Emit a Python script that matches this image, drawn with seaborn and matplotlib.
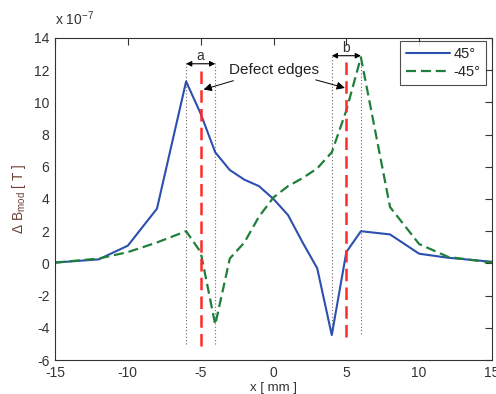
import matplotlib
matplotlib.use("Agg")
import matplotlib.pyplot as plt
import seaborn as sns
import pandas as pd

# data (values in units of 1e-7 T)
x_pos = [-15, -12, -10, -8, -6, -5, -4, -3, -2, -1, 0, 1, 2, 3, 4, 5, 6, 8, 10, 12, 15]
b_pos45 = [0.05, 0.25, 1.1, 3.4, 11.3, 9.3, 6.9, 5.8, 5.2, 4.8, 4.0, 3.0, 1.3, -0.3, -4.45, 0.7, 2.0, 1.8, 0.6, 0.35, 0.1]
b_neg45 = [0.05, 0.3, 0.7, 1.3, 2.0, 0.7, -3.8, 0.3, 1.3, 2.9, 4.1, 4.8, 5.3, 5.9, 6.9, 9.5, 12.8, 3.5, 1.2, 0.4, 0.05]
series_labels = ["45°", "-45°"]
defect_edges = [-5, 5]
marks_a = [-6, -4]
marks_b = [4, 6]
x_ticks = [-15, -10, -5, 0, 5, 10, 15]
y_ticks = [-6, -4, -2, 0, 2, 4, 6, 8, 10, 12, 14]

sns.set_style("white")
plt.rcParams['font.family'] = ['Liberation Sans', 'DejaVu Sans']
plt.rcParams['mathtext.fontset'] = 'custom'
plt.rcParams['mathtext.rm'] = 'Liberation Sans'
plt.rcParams['mathtext.it'] = 'Liberation Sans'
plt.rcParams['axes.unicode_minus'] = False

df = pd.DataFrame({
    "x": x_pos * 2,
    "B": b_pos45 + b_neg45,
    "s": [series_labels[0]] * len(x_pos) + [series_labels[1]] * len(x_pos),
})

fig = plt.figure(figsize=(4.96, 3.94), dpi=100)
ax = fig.add_axes([55 / 496, 1 - 360 / 394, (492 - 55) / 496, (360 - 38) / 394])

sns.lineplot(data=df[df.s == series_labels[0]], x="x", y="B", ax=ax,
             color="#2c4fb0", lw=1.5, label=series_labels[0], estimator=None)
sns.lineplot(data=df[df.s == series_labels[1]], x="x", y="B", ax=ax,
             color="#1f7f3a", lw=1.6, ls=(0, (4.5, 2.2)), label=series_labels[1], estimator=None)

# dotted guides
for xv in marks_a:
    ax.plot([xv, xv], [-5.0, 12.6], ls=(0, (1, 2)), color="#666666", lw=0.8, zorder=1)
for xv in marks_b:
    ax.plot([xv, xv], [-4.4, 12.9], ls=(0, (1, 2)), color="#666666", lw=0.8, zorder=1)

# red defect edges
ax.plot([defect_edges[0]] * 2, [-5.1, 12.3], color="#ff2a2a", lw=1.8, ls=(0, (5, 2.5)), zorder=4)
ax.plot([defect_edges[1]] * 2, [-4.6, 12.8], color="#ff2a2a", lw=1.8, ls=(0, (5, 2.5)), zorder=4)

# double arrows a, b
ax.annotate("", xy=(marks_a[0], 12.4), xytext=(marks_a[1], 12.4),
            arrowprops=dict(arrowstyle="<|-|>", color="black", lw=0.8, mutation_scale=8,
                            shrinkA=0, shrinkB=0))
ax.annotate("", xy=(marks_b[0], 12.9), xytext=(marks_b[1], 12.9),
            arrowprops=dict(arrowstyle="<|-|>", color="black", lw=0.8, mutation_scale=8,
                            shrinkA=0, shrinkB=0))
ax.text(-5, 12.45, "a", ha="center", va="bottom", fontsize=10, color="#333333")
ax.text(5, 12.95, "b", ha="center", va="bottom", fontsize=10, color="#333333")

# Defect edges label + arrows
ax.text(0.05, 12.0, "Defect edges", ha="center", va="center", fontsize=11, color="#222222")
ax.annotate("", xy=(-4.8, 10.8), xytext=(-2.75, 11.35),
            arrowprops=dict(arrowstyle="-|>", color="black", lw=0.7, mutation_scale=12,
                            shrinkA=0, shrinkB=0))
ax.annotate("", xy=(4.9, 10.9), xytext=(2.9, 11.4),
            arrowprops=dict(arrowstyle="-|>", color="black", lw=0.7, mutation_scale=12,
                            shrinkA=0, shrinkB=0))

ax.set_xlim(-15, 15)
ax.set_ylim(-6, 14)
ax.set_xticks(x_ticks)
ax.set_yticks(y_ticks)
ax.tick_params(direction="in", length=5, width=0.8, top=True, right=True,
               labelsize=10, colors="#333333", pad=4)
for sp in ax.spines.values():
    sp.set_color("#333333")
    sp.set_linewidth(0.8)

ax.set_xlabel("x [ mm ]", fontsize=9.5, color="#333333", labelpad=2)
ax.set_ylabel(r"$\Delta$ B$_{\mathrm{mod}}$ [ T ]", fontsize=10, color="#6b3f35", labelpad=4)
ax.text(0.0, 1.03, r"x 10$^{-7}$", transform=ax.transAxes, fontsize=10,
        color="#333333", ha="left", va="bottom")

leg = ax.legend(loc="upper right", bbox_to_anchor=(0.987, 0.99), fontsize=10.5, frameon=True,
                fancybox=False, edgecolor="#222222", handlelength=3.0, borderpad=0.4,
                labelspacing=0.3, handletextpad=0.25, borderaxespad=0)
leg.get_frame().set_linewidth(0.8)

fig.savefig("out.png", dpi=100)
